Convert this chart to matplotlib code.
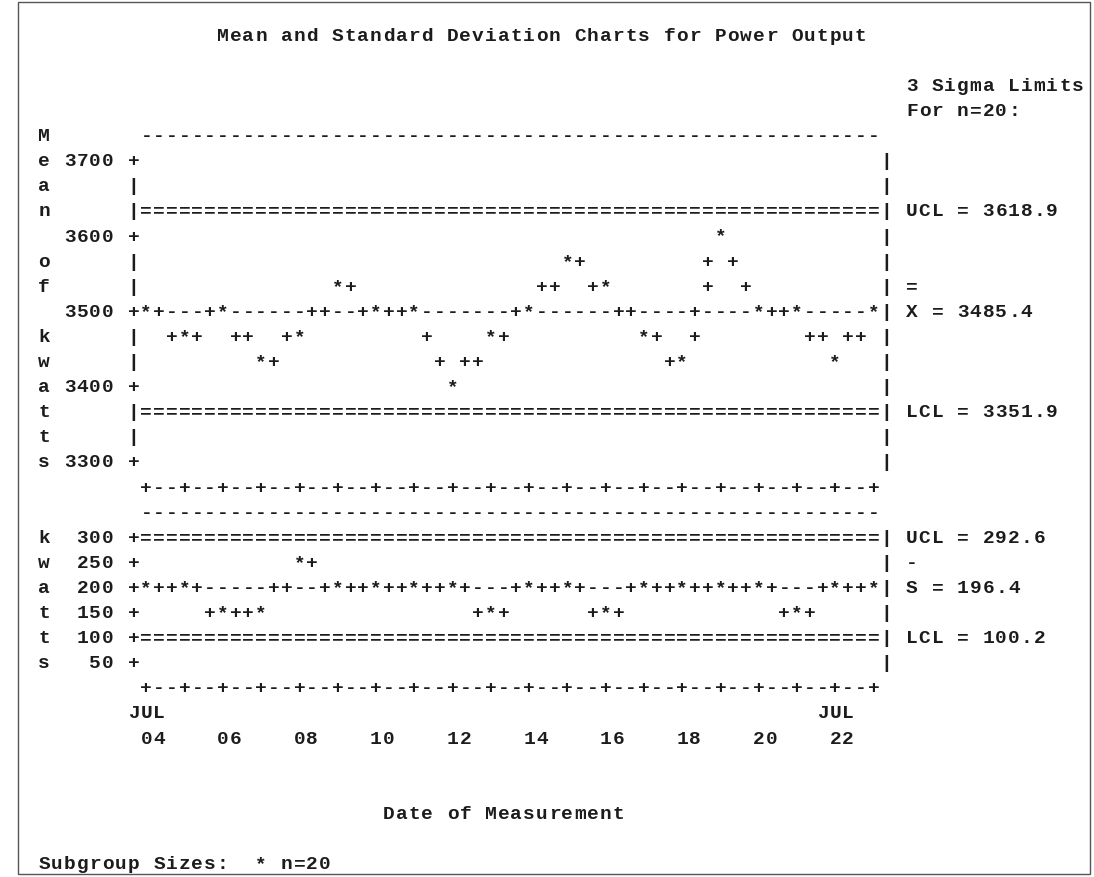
import matplotlib
matplotlib.use("Agg")
import matplotlib.pyplot as plt
from matplotlib.patches import Rectangle
import numpy as np

# Daily subgroups (July), n = 20 readings each
days = ["04", "05", "06", "07", "08", "09", "10", "11", "12", "13",
        "14", "15", "16", "17", "18", "19", "20", "21", "22", "23"]
mean_kw = [3489, 3470, 3490, 3436, 3468, 3531, 3488, 3492, 3398, 3461,
           3486, 3562, 3528, 3472, 3441, 3601, 3486, 3491, 3430, 3488]
std_kw = [198, 207, 160, 170, 244, 210, 186, 215, 192, 164,
          203, 221, 155, 208, 196, 212, 190, 168, 218, 211]

# control limits: UCL, centre, LCL
mean_limits = [3618.9, 3485.4, 3351.9]
std_limits = [292.6, 196.4, 100.2]

mean_ticks = [3700, 3600, 3500, 3400, 3300]
std_ticks = [300, 250, 200, 150, 100, 50]
tick_days = days[:-1:2]

# character cell geometry (pixels)
COL_W, X0 = 12.76, 133.5
ROW_H, Y0 = 25.1, 34.5
W, H = 1094, 878

grid = {}


def put(col, line, s):
    for i, ch in enumerate(s):
        if ch == " ":
            grid.pop((col + i, line), None)
        else:
            grid[(col + i, line)] = ch


def span(a, r):
    # rows of a connector column, stretched so steep segments stay joined
    if abs(r - a) <= 1:
        return [a]
    return list(range(a, r, 1 if r > a else -1))


def rnd(x):
    return int(np.floor(x + 0.5))


def draw_panel(first, ticks, rows_per_tick, values, limits):
    unit = (ticks[0] - ticks[1]) / rows_per_tick
    to_line = lambda v: first + rnd((ticks[0] - v) / unit)
    last = to_line(ticks[-1])
    xs = [1 + 3 * i for i in range(len(values))]
    width = xs[-1]
    put(1, first - 1, "-" * width)
    for ln in range(first, last + 1):
        put(0, ln, "|")
        put(width + 1, ln, "|")
    ucl, center, lcl = limits
    put(1, to_line(ucl), "=" * width)
    put(1, to_line(lcl), "=" * width)
    put(1, to_line(center), "-" * width)
    for t in ticks:
        put(0, to_line(t), "+")
        put(-1 - len(str(t)), to_line(t), str(t))
    put(1, last + 1, "".join("+" if (c - 1) % 3 == 0 else "-"
                             for c in range(1, width + 1)))
    rows = [to_line(v) for v in values]
    for i in range(len(rows) - 1):
        r1, r2 = rows[i], rows[i + 1]
        d = r2 - r1
        for ln in span(rnd(r1 + d / 3), r1):
            put(xs[i] + 1, ln, "+")
        for ln in span(rnd(r1 + 2 * d / 3), r2):
            put(xs[i] + 2, ln, "+")
    for x, r in zip(xs, rows):
        put(x, r, "*")
    return to_line, width


# mean chart
m_line, width = draw_panel(5, mean_ticks, 3, mean_kw, mean_limits)
for i, ch in enumerate("Mean of kwatts"):
    put(-7, 4 + i, ch)
put(width + 3, m_line(mean_limits[0]), f"UCL = {mean_limits[0]:.1f}")
put(width + 3, m_line(mean_limits[1]) - 1, "=")
put(width + 3, m_line(mean_limits[1]), f"X = {mean_limits[1]:.1f}")
put(width + 3, m_line(mean_limits[2]), f"LCL = {mean_limits[2]:.1f}")

# standard deviation chart
s_line, _ = draw_panel(20, std_ticks, 1, std_kw, std_limits)
for i, ch in enumerate("kwatts"):
    put(-7, 20 + i, ch)
put(width + 3, s_line(std_limits[0]), f"UCL = {std_limits[0]:.1f}")
put(width + 3, s_line(std_limits[1]) - 1, "-")
put(width + 3, s_line(std_limits[1]), f"S = {std_limits[1]:.1f}")
put(width + 3, s_line(std_limits[2]), f"LCL = {std_limits[2]:.1f}")

# dates under the axis
date_line = s_line(std_ticks[-1]) + 2
for k, d in enumerate(tick_days):
    x = 1 + 6 * k
    if k in (0, len(tick_days) - 1):
        put(x - 1, date_line, "JUL")
    put(x, date_line + 1, d)

put(7, 0, "Mean and Standard Deviation Charts for Power Output")
put(width + 3, 2, "3 Sigma Limits")
put(width + 3, 3, "For n=20:")
put(20, date_line + 4, "Date of Measurement")
put(-7, date_line + 6, "Subgroup Sizes:  * n=20")

fig = plt.figure(figsize=(W / 100, H / 100), dpi=100)
ax = fig.add_axes([0, 0, 1, 1])
ax.set_xlim((0 - X0) / COL_W, (W - X0) / COL_W)
ax.set_ylim((H - Y0) / ROW_H, (0 - Y0) / ROW_H)
ax.axis("off")

for (c, ln), ch in grid.items():
    ax.text(c, ln + 0.25, ch, ha="center", va="baseline",
            fontfamily="Liberation Mono", fontweight="bold",
            fontsize=14, color="#1c1c1c")

fig.add_artist(Rectangle((18 / W, 3 / H), 1072 / W, 872 / H,
                         transform=fig.transFigure, fill=False,
                         edgecolor="#555555", linewidth=1.0))

fig.savefig("out.png", dpi=100)
